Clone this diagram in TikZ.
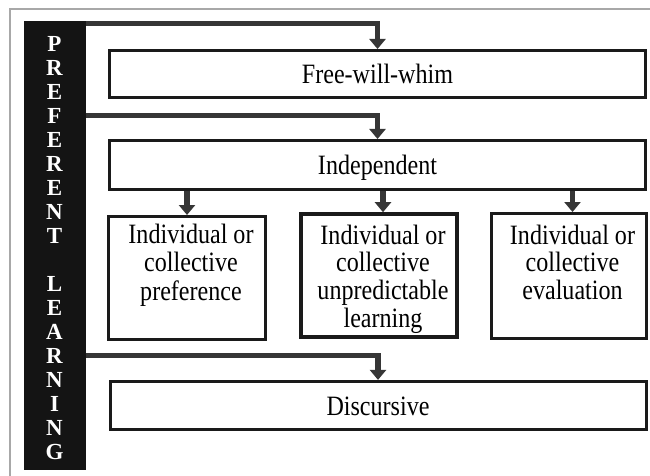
\documentclass[tikz,border=0pt]{standalone}
\usepackage{fontspec}
\setmainfont[FakeStretch=0.86]{Liberation Serif}
\newfontfamily\barfont{Liberation Serif}
\usetikzlibrary{arrows.meta}
\definecolor{boxc}{HTML}{1A1A1A}
\definecolor{arrc}{HTML}{363636}
\definecolor{barc}{HTML}{141414}
\definecolor{framec}{HTML}{A8A8A8}
\begin{document}
\begin{tikzpicture}[x=1pt,y=-1pt,
  box/.style={draw=boxc, line width=3pt, fill=white, inner sep=0pt},
  wide/.style={box, minimum width=536pt, font=\fontsize{28}{28}\selectfont,
    text height=19.5pt, text depth=0pt},
  boxtext/.style={inner sep=0pt, align=center, font=\fontsize{28}{27.9}\selectfont},
  conn/.style={draw=arrc, line width=5.5pt, -{Triangle[width=16pt,length=10pt]}, line join=miter},
  letter/.style={text=white, font=\barfont\fontsize{23}{23}\selectfont\bfseries, inner sep=0pt}]
\useasboundingbox (0,0) rectangle (650,476);
\draw[framec, line width=1.5pt] (10,476) -- (10,9) -- (650,9);
\node[fill=barc, minimum width=62pt, minimum height=449pt, inner sep=0pt] (bar) at (55,245.5) {};
\foreach \ch [count=\i from 0] in {P,R,E,F,E,R,E,N,T}
  \node[letter] (p\i) at (54.5,44.3+24*\i) {\ch};
\foreach \ch [count=\i from 10] in {L,E,A,R,N,I,N,G}
  \node[letter] (l\i) at (54.5,44.3+24*\i) {\ch};
\node[wide, minimum height=47pt] (fw) at (377.5,74) {Free-will-whim};
\node[wide, minimum height=48.5pt] (ind) at (377.5,164.75) {Independent};
\node[wide, minimum height=48pt] (dis) at (378,405.4) {Discursive};
\node[box, minimum width=156.4pt, minimum height=123pt] (a) at (187,278) {};
\node[box, line width=4pt, minimum width=156.3pt, minimum height=123pt] (b) at (379.2,275.7) {};
\node[box, minimum width=155pt, minimum height=125pt] (c) at (569,276) {};
\node[boxtext] (ta) at (191,280.3) {\strut Individual or\\\strut collective\\\strut preference\\\strut};
\node[boxtext] (tb) at (383,280.3) {\strut Individual or\\\strut collective\\\strut unpredictable\\\strut learning};
\node[boxtext] (tc) at (572.5,280.3) {\strut Individual or\\\strut collective\\\strut evaluation\\\strut};
\draw[conn] (bar.east |- 0,23.5) -| (fw.north);
\draw[conn] (bar.east |- 0,115.5) -| (ind.north);
\draw[conn] (bar.east |- 0,355.5) -| (dis.north);
\draw[conn] (ind.south -| a.north) -- (a.north);
\draw[conn] (ind.south -| tb.north) -- (tb.north |- b.north);
\draw[conn] (ind.south -| tc.north) -- (tc.north |- c.north);
\end{tikzpicture}
\end{document}
